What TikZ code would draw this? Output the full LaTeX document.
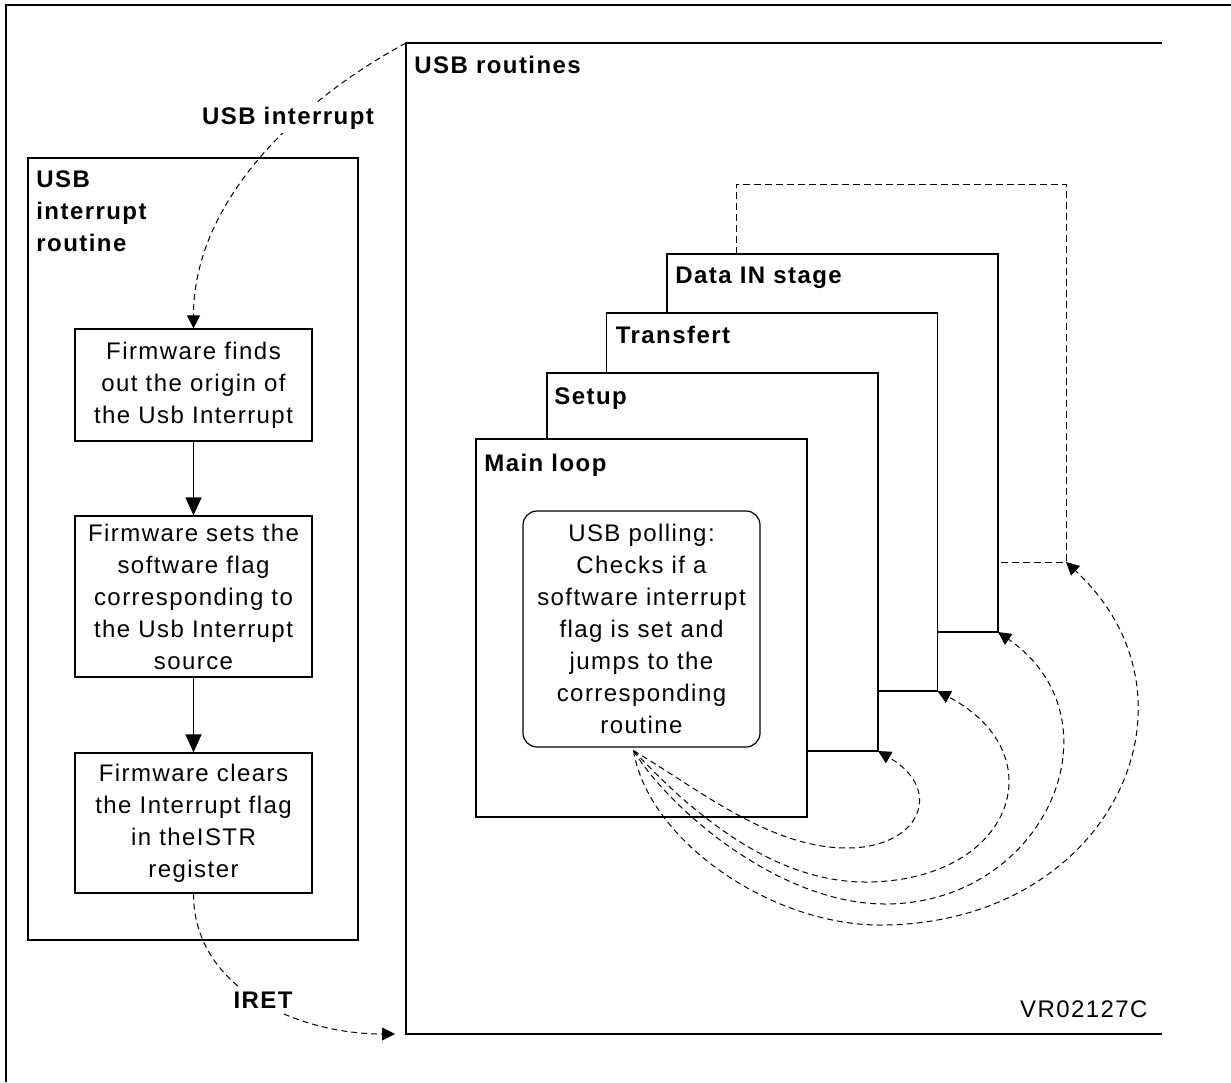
\documentclass[tikz,border=0pt]{standalone}
\usepackage{fontspec}
\setmainfont{Liberation Sans}[LetterSpace=6.0]
\usepackage{tikz}
\usetikzlibrary{arrows.meta,positioning}

\begin{document}
\begin{tikzpicture}[x=0.5pt, y=-0.5pt,
    every node/.style={font=\fontsize{12}{16}\selectfont},
    fwbox/.style={draw, line width=0.6pt, align=center, minimum width=118.5pt, inner sep=2pt},
    stagebox/.style={draw, line width=0.6pt, fill=white, minimum width=165.5pt, minimum height=189pt, outer sep=0pt},
    stagelbl/.style={anchor=base west, inner sep=0pt, font=\fontsize{12}{16}\selectfont\bfseries},
    flow/.style={-{Triangle[length=9pt,width=8pt]}, line width=0.6pt},
    jump/.style={-{Triangle[length=6.5pt,width=6.5pt]}, line width=0.5pt, dash pattern=on 3pt off 2pt},
    backpath/.style={line width=0.5pt, dash pattern=on 3.5pt off 2pt}
]
    \useasboundingbox (0,0) rectangle (1231,1082);

    % Outer frame
    \draw[line width=1.4pt] (6,1082) -- (6,5) -- (1231,5);

    % USB interrupt routine
    \node[draw, line width=0.6pt, minimum width=165pt, minimum height=391pt, outer sep=0pt] (isr) at (193,549) {};
    \node[anchor=north west, inner sep=0pt, align=left, font=\fontsize{12}{16}\selectfont\bfseries] (isrlbl) at (36,170) {USB\\interrupt\\routine};

    \node[fwbox, minimum height=56pt] (find) at (193.5,385) {Firmware finds\\out the origin of\\the Usb Interrupt};
    \node[fwbox, minimum height=80.5pt] (setflag) at (193.5,596.5) {Firmware sets the\\software flag\\corresponding to\\the Usb Interrupt\\source};
    \node[fwbox, minimum height=70pt] (clear) at (193.5,823) {Firmware clears\\the Interrupt flag\\in theISTR\\register};

    \draw[flow] (find) -- (setflag);
    \draw[flow] (setflag) -- (clear);

    % USB routines (open on the right)
    \node[minimum width=378pt, minimum height=495.5pt, outer sep=0pt] (usbr) at (784,538.5) {};
    \draw[line width=0.6pt] (usbr.north east) -- (usbr.north west) -- (usbr.south west) -- (usbr.south east);
    \node[stagelbl] (usbrlbl) at ([shift={(8,30)}]usbr.north west) {USB routines};

    % Stages, back to front
    \node[stagebox] (datain) at (832.5,443) {};
    \node[stagelbl] (datainlbl) at ([shift={(8,29)}]datain.north west) {Data IN stage};
    \node[stagebox] (transfert) at (772,502) {};
    \node[stagelbl] (transfertlbl) at ([shift={(9,30)}]transfert.north west) {Transfert};
    \node[stagebox] (setup) at (712.5,562) {};
    \node[stagelbl] (setuplbl) at ([shift={(7,31)}]setup.north west) {Setup};
    \node[stagebox] (mainloop) at (641.5,628) {};
    \node[stagelbl] (mainlooplbl) at ([shift={(8,32)}]mainloop.north west) {Main loop};

    \node[draw, rounded corners=7pt, line width=0.6pt, fill=white, align=center, minimum width=118.5pt, minimum height=118pt] (poll) at (641.5,629) {USB polling:\\Checks if a\\software interrupt\\flag is set and\\jumps to the\\corresponding\\routine};

    % Loop back from Data IN stage
    \coordinate (loopc) at (1066,562);
    \draw[backpath] ([xshift=34.5pt]datain.north west) -- ++(0,-70) -| (loopc) -- (datain.east |- loopc);

    % Jumps from the polling routine
    \coordinate (pollout) at ([xshift=-4pt,yshift=-1.5pt]poll.south);
    \draw[jump] (pollout) .. controls (700,790) and (770,848) .. (847,848) .. controls (920,848) and (945,790) .. (setup.south east);
    \draw[jump] (pollout) .. controls (680,800) and (765,882) .. (865,882) .. controls (1012,882) and (1058,755) .. (transfert.south east);
    \draw[jump] (pollout) .. controls (670,810) and (780,904) .. (885,904) .. controls (1045,904) and (1125,720) .. (datain.south east);
    \draw[jump] (pollout) .. controls (648,840) and (770,925) .. (880,925) .. controls (1110,925) and (1215,700) .. (loopc);

    % Interrupt entry and return
    \draw[jump] (usbr.north west) .. controls (300,100) and (193.5,200) .. (find.north);
    \node[fill=white, inner sep=2pt, font=\fontsize{12}{16}\selectfont\bfseries] (irqlbl) at (288,118) {USB interrupt};
    \draw[jump, shorten >=5.5pt] (clear.south) .. controls (193.5,990) and (300,1034) .. (usbr.south west);
    \node[fill=white, inner sep=2pt, font=\fontsize{12}{16}\selectfont\bfseries] (iretlbl) at (263,1000.5) {IRET};

    \node[anchor=base east, inner sep=0pt] (code) at (1148,1017) {VR02127C};
\end{tikzpicture}
\end{document}
